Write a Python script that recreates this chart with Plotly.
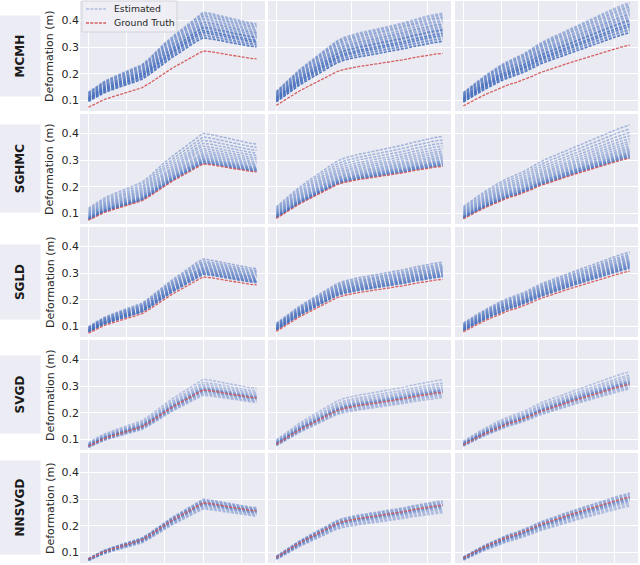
import plotly.graph_objects as go

# ---------------- data ----------------
days = list(range(23))
tick_x = [0, 5, 10, 15, 20]
tick_y = [0.1, 0.2, 0.3, 0.4]
tick_y_text = ["0.1", "0.2", "0.3", "0.4"]

methods = ["MCMH", "SGHMC", "SGLD", "SVGD", "NNSVGD"]
legend_labels = ["Estimated", "Ground Truth"]

truth_col1 = [0.075, 0.090, 0.103, 0.113, 0.122, 0.130, 0.138, 0.148, 0.165, 0.185, 0.205, 0.222,
              0.238, 0.255, 0.272, 0.286, 0.283, 0.278, 0.273, 0.268, 0.263, 0.259, 0.256]
truth_col2 = [0.082, 0.100, 0.118, 0.135, 0.150, 0.165, 0.180, 0.195, 0.208, 0.217, 0.223, 0.228,
              0.232, 0.236, 0.240, 0.244, 0.249, 0.254, 0.260, 0.265, 0.270, 0.274, 0.277]
truth_col3 = [0.080, 0.096, 0.110, 0.124, 0.137, 0.150, 0.160, 0.168, 0.178, 0.190, 0.203, 0.213,
              0.222, 0.232, 0.241, 0.250, 0.259, 0.268, 0.277, 0.285, 0.293, 0.301, 0.308]
truths = [truth_col1, truth_col2, truth_col3]

# estimated ensemble: each member = truth * scale + offset.
# per panel: (scale_low, scale_high, offset_low, offset_high)
band_mcmh = [(1.13, 1.42, 0.012, 0.025), (1.16, 1.50, 0.000, 0.012), (1.14, 1.48, 0.003, 0.012)]
band_sghmc = [(1.00, 1.33, 0.002, 0.020), (1.00, 1.35, 0.002, 0.015), (1.00, 1.34, 0.002, 0.019)]
band_sgld = [(1.02, 1.20, 0.003, 0.010), (1.02, 1.17, 0.003, 0.017), (1.02, 1.166, 0.003, 0.020)]
band_svgd = [(0.93, 1.12, 0.0, 0.005), (0.93, 1.15, 0.0, 0.005), (0.94, 1.14, 0.0, 0.003)]
band_nnsvgd = [(0.92, 1.05, 0.0, 0.0), (0.90, 1.06, 0.0, 0.0), (0.89, 1.05, 0.0, 0.0)]
bands = [band_mcmh, band_sghmc, band_sgld, band_svgd, band_nnsvgd]

# position of each ensemble member inside the band (0 = low, 1 = high)
members_mcmh = [0.0, 0.05, 0.10, 0.15, 0.20, 0.24, 0.28, 0.33, 0.38, 0.42, 0.47,
                0.52, 0.57, 0.62, 0.68, 0.73, 0.79, 0.85, 0.90, 0.95, 1.0]
alpha_mcmh = [0.9, 0.4, 0.75, 0.4, 0.85, 0.45, 0.9, 0.4, 0.65, 0.8, 0.4,
              0.55, 0.4, 0.65, 0.35, 0.5, 0.4, 0.55, 0.35, 0.45, 0.4]
members_sghmc = [0.0, 0.01, 0.02, 0.04, 0.06, 0.08, 0.10, 0.13, 0.16, 0.20, 0.25,
                 0.30, 0.36, 0.43, 0.50, 0.58, 0.67, 0.77, 0.88, 1.0]
members_sgld = [0.0, 0.03, 0.06, 0.10, 0.14, 0.18, 0.23, 0.28, 0.33, 0.39, 0.45,
                0.52, 0.60, 0.68, 0.77, 0.87, 1.0]
members_svgd = [0.0, 0.08, 0.16, 0.22, 0.27, 0.30, 0.33, 0.36, 0.39, 0.42, 0.46,
                0.52, 0.60, 0.70, 0.82, 1.0]
members_nnsvgd = [0.0, 0.12, 0.25, 0.35, 0.42, 0.48, 0.53, 0.57, 0.61, 0.65, 0.70,
                  0.76, 0.84, 0.92, 1.0]
members = [members_mcmh, members_sghmc, members_sgld, members_svgd, members_nnsvgd]
alphas = [alpha_mcmh, [0.45] * len(members_sghmc), [0.5] * len(members_sgld),
          [0.36] * len(members_svgd), [0.36] * len(members_nnsvgd)]

# ---------------- layout geometry ----------------
W, H = 640, 565
ML, MR, MT, MB = 80, 2, 1, 2
PW, PH = W - ML - MR, H - MT - MB
col_px = [(0, 185), (188, 371), (375, 558)]
row_px = [(0, 110), (113, 223), (226, 336), (339, 449), (452, 562)]
box_len = [78, 85, 72, 75, 91]

BLUE = (72, 112, 190)
RED = "#D65F5F"
BG = "#EAEAF2"
TXT = "#262626"
DASH = "3px,1.3px"


def px_x(p):
    return (p - ML) / PW


def px_y(p):
    return 1 - (p - MT) / PH


fig = go.Figure()

layout = dict(width=W, height=H, margin=dict(l=ML, r=MR, t=MT, b=MB),
              paper_bgcolor="white", plot_bgcolor=BG, showlegend=False,
              font=dict(family="DejaVu Sans", color=TXT, size=11))
annotations = []
shapes = []

for r, method in enumerate(methods):
    for c in range(3):
        k = r * 3 + c + 1
        xs = "" if k == 1 else str(k)
        xa, ya = "x" + xs, "y" + xs
        gt = truths[c]
        s_lo, s_hi, o_lo, o_hi = bands[r][c]
        for f, a in zip(members[r], alphas[r]):
            s = s_lo + f * (s_hi - s_lo)
            o = o_lo + f * (o_hi - o_lo)
            ys = [g * s + o for g in gt]
            fig.add_trace(go.Scatter(x=days, y=ys, mode="lines", showlegend=False, hoverinfo="skip",
                                     line=dict(color="rgba(%d,%d,%d,%.2f)" % (BLUE + (a,)), width=1.5,
                                               dash=DASH),
                                     xaxis=xa, yaxis=ya))
        fig.add_trace(go.Scatter(x=days, y=gt, mode="lines", name=legend_labels[1],
                                 showlegend=False, hoverinfo="skip",
                                 line=dict(color=RED, width=1.3, dash=DASH),
                                 xaxis=xa, yaxis=ya))
        x0, x1 = col_px[c]
        y0, y1 = row_px[r]
        layout["xaxis" + xs] = dict(domain=[x0 / PW, x1 / PW], anchor=ya, range=[-1.1, 23.1],
                                    tickvals=tick_x, showticklabels=False, showgrid=True,
                                    gridcolor="white", gridwidth=1.3, zeroline=False,
                                    showline=False, ticks="")
        layout["yaxis" + xs] = dict(domain=[1 - y1 / PH, 1 - y0 / PH], anchor=xa, range=[0.061, 0.473],
                                    tickvals=tick_y, ticktext=tick_y_text, showticklabels=(c == 0),
                                    showgrid=True, gridcolor="white", gridwidth=1.3, zeroline=False,
                                    showline=False, ticks="", tickfont=dict(size=11, color=TXT))
    yc = 1 - ((row_px[r][0] + row_px[r][1]) / 2) / PH
    annotations.append(dict(text="Deformation (m)", xref="paper", yref="paper",
                            x=px_x(50), y=yc, textangle=-90, showarrow=False,
                            font=dict(size=11, color=TXT), xanchor="center", yanchor="middle"))
    annotations.append(dict(text=method, xref="paper", yref="paper",
                            x=px_x(20), y=yc, textangle=-90, showarrow=False,
                            font=dict(size=12, color="#1a1a1a", weight="bold"),
                            bgcolor="#ECECF4", width=box_len[r], height=38,
                            xanchor="center", yanchor="middle"))

# legend (drawn by hand inside the first panel)
shapes.append(dict(type="rect", xref="paper", yref="paper",
                   x0=px_x(82), x1=px_x(177), y0=px_y(32), y1=px_y(1),
                   fillcolor="rgba(238,238,245,0.85)", line=dict(color="#D2D2DA", width=1),
                   layer="above"))
leg_rows = [(9, "rgba(120,150,210,0.55)", legend_labels[0]), (23, RED, legend_labels[1])]
for yy, col, lab in leg_rows:
    shapes.append(dict(type="line", xref="paper", yref="paper",
                       x0=px_x(86), x1=px_x(106), y0=px_y(yy), y1=px_y(yy),
                       line=dict(color=col, width=1.5, dash=DASH), layer="above"))
    annotations.append(dict(text=lab, xref="paper", yref="paper", x=px_x(112), y=px_y(yy),
                            xanchor="left", yanchor="middle", showarrow=False,
                            font=dict(size=9.3, color=TXT)))

layout["annotations"] = annotations
layout["shapes"] = shapes
fig.update_layout(**layout)
fig.write_html("out.html", config={"displayModeBar": False},
               post_script="document.body.style.margin='0';document.body.style.padding='0';")
